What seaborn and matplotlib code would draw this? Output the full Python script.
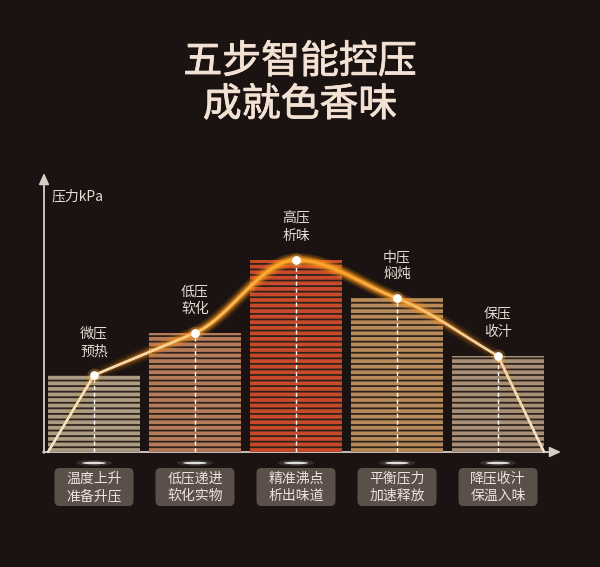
import numpy as np
import pandas as pd
import seaborn as sns
import matplotlib
matplotlib.use('Agg')
import matplotlib.pyplot as plt
import matplotlib.patheffects as pe
from matplotlib.collections import LineCollection
from matplotlib.patches import FancyBboxPatch, Ellipse
from matplotlib.colors import LinearSegmentedColormap, to_rgba

# ---- data ----
stages = ['微压\n预热', '低压\n软化', '高压\n析味', '中压\n焖炖', '保压\n收汁']
pressure = [20, 31, 50, 40, 25]
notes = ['温度上升\n准备升压', '低压递进\n软化实物', '精准沸点\n析出味道',
         '平衡压力\n加速释放', '降压收汁\n保温入味']
bar_colors = ['#ab9c83', '#b57b5a', '#c94a2b', '#b88a59', '#a88f77']
title_lines = ['五步智能控压', '成就色香味']
y_label = '压力kPa'

sns.set_theme(style='white')
plt.rcParams['font.family'] = ['Noto Sans CJK SC', 'DejaVu Sans']
plt.rcParams['hatch.linewidth'] = 1.3

BG = '#1b1311'
TXT = '#e6ddd5'
fig = plt.figure(figsize=(6, 5.67), dpi=100, facecolor=BG)

ov = fig.add_axes([0, 0, 1, 1])
ov.set_xlim(0, 600)
ov.set_ylim(567, 0)
ov.axis('off')

ax = fig.add_axes([44 / 600, (567 - 452) / 567, 511 / 600, 277 / 567])
ax.set_zorder(2)
df = pd.DataFrame({'stage': stages, 'pressure': pressure})
sns.barplot(data=df, x='stage', y='pressure', hue='stage', palette=bar_colors,
            legend=False, saturation=1, width=0.911, edgecolor='#2e231c',
            linewidth=0, hatch='---', ax=ax, zorder=1)
ax.set_xlim(-0.495, 4.564)
ax.set_ylim(0, 72.1)
ax.axis('off')

n = len(pressure)
xi = np.arange(n)
ax.vlines(xi, 0, pressure, colors='white', linestyles=(0, (3, 2)), lw=1, zorder=2)

# smooth curve through the stage points (hermite, minmod-limited slopes,
# straight lead-in / lead-out segments)
xk = np.array([-0.455] + list(xi) + [n - 1 + 0.455], dtype=float)
yk = np.array([0] + pressure + [0], dtype=float)
sec = np.diff(yk) / np.diff(xk)
m = np.zeros_like(yk)
for k in range(1, len(xk) - 1):
    a, b = sec[k - 1], sec[k]
    m[k] = 0 if a * b <= 0 else np.sign(a) * min(abs(a), abs(b))
cx, cy = [], []
nseg = len(xk) - 1
for k in range(nseg):
    h = xk[k + 1] - xk[k]
    if k == 0 or k == nseg - 1:
        m0 = m1 = sec[k]
    else:
        m0, m1 = m[k], m[k + 1]
    t = np.linspace(0, 1, 60, endpoint=False)
    h00 = 2 * t**3 - 3 * t**2 + 1
    h10 = t**3 - 2 * t**2 + t
    h01 = -2 * t**3 + 3 * t**2
    h11 = t**3 - t**2
    cx.extend(xk[k] + t * h)
    cy.extend(h00 * yk[k] + h10 * h * m0 + h01 * yk[k + 1] + h11 * h * m1)
cx.append(xk[-1]); cy.append(yk[-1])
cx = np.array(cx); cy = np.array(cy)
pts = np.column_stack([cx, cy]).reshape(-1, 1, 2)
segs = np.concatenate([pts[:-1], pts[1:]], axis=1)
u = (cx[:-1] - xk[0]) / (xk[-1] - xk[0])

cmap = LinearSegmentedColormap.from_list('c', [
    (0.0, '#f1e2c8'), (0.2, '#f6d8a8'), (0.45, '#f8aa2e'), (0.6, '#f6a630'),
    (0.8, '#f5c887'), (1.0, '#eee0cc')])
glow_a = np.clip(np.sin(np.pi * u) ** 1.5, 0, 1)
for lw, a in [(10, 0.05), (6.5, 0.12), (3.8, 0.28)]:
    cols = np.array([to_rgba('#ff9a1e', a * g) for g in glow_a])
    ax.add_collection(LineCollection(segs, colors=cols, linewidths=lw, zorder=3,
                                     capstyle='round', clip_on=False))
ax.add_collection(LineCollection(segs, colors=cmap(u), linewidths=1.8, zorder=4,
                                 capstyle='round', clip_on=False))

ax.scatter(xi, pressure, s=100, color='#ffb347', alpha=0.25, zorder=5, linewidths=0)
ax.scatter(xi, pressure, s=40, color='white', zorder=6, linewidths=0)

for i, (s, p) in enumerate(zip(stages, pressure)):
    ax.annotate(s, xy=(i, p), xytext=(0, 17), textcoords='offset pixels',
                ha='center', va='bottom', fontsize=10, color=TXT, linespacing=1.3)

# axes arrows
acol = '#d6cec6'
ov.annotate('', xy=(44, 173), xytext=(44, 453),
            arrowprops=dict(arrowstyle='-|>,head_length=0.55,head_width=0.25',
                            color=acol, lw=1.3, shrinkA=0, shrinkB=0))
ov.annotate('', xy=(561, 452), xytext=(43, 452),
            arrowprops=dict(arrowstyle='-|>,head_length=0.55,head_width=0.25',
                            color=acol, lw=1.3, shrinkA=0, shrinkB=0))
ov.text(52, 196, y_label, ha='left', va='center', fontsize=10, color=TXT)

# boxes under bars
inv = ov.transData.inverted()
for i, note in enumerate(notes):
    px = inv.transform(ax.transData.transform((i, 0)))[0]
    ov.add_patch(FancyBboxPatch((px - 39.5, 468), 79, 38,
                                boxstyle='round,pad=0,rounding_size=5',
                                fc='#5a4f49', ec='none'))
    ov.text(px, 487.5, note, ha='center', va='center', fontsize=10,
            color='#ece4dc', linespacing=1.3)
    ov.add_patch(Ellipse((px, 463), 36, 6, color='white', alpha=0.12, lw=0))
    ov.add_patch(Ellipse((px, 463), 24, 2.5, color='white', alpha=0.85, lw=0))

TCOL = '#f3e1d4'
for ty, line in zip([62, 105], title_lines):
    fig.text(0.5, 1 - ty / 567, line, ha='center', va='center',
             fontsize=28, color=TCOL, weight='normal',
             path_effects=[pe.withStroke(linewidth=0.6, foreground=TCOL)])

fig.savefig('out.png', dpi=100, facecolor=BG)
